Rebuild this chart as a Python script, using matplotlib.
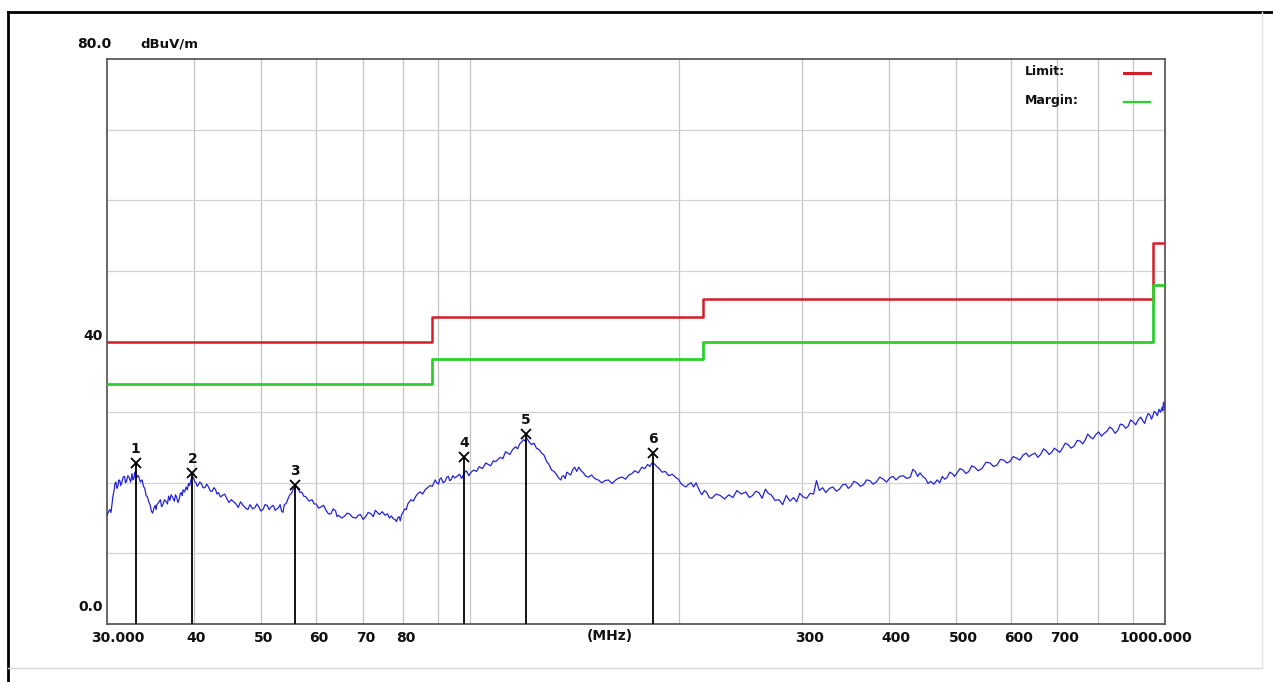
import matplotlib
matplotlib.use("Agg")
import matplotlib.pyplot as plt
from matplotlib.lines import Line2D
from matplotlib.transforms import ScaledTranslation

# ---------------- data ----------------
# measured trace: (frequency MHz, level dBuV/m) read off the picture
trace_pairs = [
    (30.0, 15.4), (30.15, 15.9), (30.3, 16.2), (30.4, 15.8), (30.5, 16.9), (30.6, 18.1), (30.7, 18.8),
    (30.8, 19.9), (30.9, 20.1), (31.0, 19.2), (31.1, 19.5), (31.2, 20.4), (31.3, 20.3), (31.4, 19.6),
    (31.5, 20.0), (31.65, 20.8), (31.8, 20.9), (31.9, 20.0), (32.0, 20.2), (32.15, 21.0), (32.3, 20.7),
    (32.45, 20.1), (32.6, 21.3), (32.7, 20.4), (32.8, 20.6), (32.9, 21.5), (33.0, 21.6), (33.15, 20.8),
    (33.3, 21.0), (33.5, 20.1), (33.7, 20.4), (33.85, 19.5), (34.0, 19.2), (34.15, 18.2), (34.3, 18.0),
    (34.45, 17.3), (34.6, 16.9), (34.75, 16.0), (34.9, 15.7), (35.05, 16.4), (35.2, 16.8), (35.3, 16.2),
    (35.4, 16.9), (35.6, 17.2), (35.8, 17.6), (35.95, 16.6), (36.1, 16.9), (36.3, 17.6), (36.5, 17.3),
    (36.65, 17.0), (36.8, 18.1), (36.95, 17.5), (37.1, 18.3), (37.3, 17.9), (37.5, 17.4), (37.65, 18.3),
    (37.8, 17.9), (37.95, 17.2), (38.1, 17.6), (38.25, 18.5), (38.4, 18.6), (38.5, 18.2), (38.6, 19.0),
    (38.8, 18.7), (39.0, 19.4), (39.15, 19.0), (39.3, 19.9), (39.45, 19.6), (39.6, 20.3), (39.8, 20.9),
    (40.0, 20.6), (40.15, 20.1), (40.3, 20.0), (40.45, 19.5), (40.6, 19.7), (40.8, 20.1), (41.0, 19.9),
    (41.25, 19.3), (41.5, 19.3), (41.75, 19.8), (42.0, 19.4), (42.25, 18.8), (42.5, 18.8), (42.75, 19.3),
    (43.0, 19.0), (43.2, 18.4), (43.4, 18.6), (43.7, 18.0), (44.0, 18.2), (44.3, 18.4), (44.6, 17.8),
    (44.95, 17.2), (45.3, 17.6), (45.65, 17.3), (46.0, 17.0), (46.35, 16.5), (46.7, 17.3), (47.1, 16.8),
    (47.5, 16.4), (47.85, 16.2), (48.2, 16.9), (48.6, 16.3), (49.0, 16.5), (49.3, 17.0), (49.6, 16.6),
    (49.95, 16.0), (50.3, 16.2), (50.65, 16.9), (51.0, 16.8), (51.35, 16.2), (51.7, 16.6), (52.05, 16.8),
    (52.4, 16.1), (52.7, 16.3), (53.0, 16.5), (53.25, 16.9), (53.5, 16.0), (53.75, 15.8), (54.0, 16.9),
    (54.35, 17.1), (54.7, 17.8), (55.0, 18.3), (55.3, 18.5), (55.65, 19.2), (56.0, 19.5), (56.3, 19.3),
    (56.6, 19.0), (56.9, 18.6), (57.2, 18.7), (57.6, 18.1), (58.0, 18.0), (58.6, 17.4), (59.2, 17.6),
    (59.6, 17.0), (60.0, 17.0), (60.5, 16.4), (61.0, 16.6), (61.5, 16.8), (62.0, 16.1), (62.5, 15.6),
    (63.0, 15.6), (63.5, 16.3), (64.0, 16.0), (64.3, 15.2), (64.6, 15.4), (65.3, 15.0), (66.0, 15.3),
    (66.5, 15.7), (67.0, 15.6), (67.7, 15.1), (68.5, 15.0), (69.0, 15.4), (69.5, 15.5), (70.1, 14.8),
    (70.7, 15.2), (71.3, 15.8), (72.0, 15.6), (72.5, 15.2), (73.0, 16.1), (73.5, 15.8), (74.0, 15.5),
    (74.7, 15.9), (75.4, 15.4), (76.0, 15.6), (76.5, 15.0), (77.0, 15.3), (77.5, 14.9), (77.9, 14.8),
    (78.3, 14.5), (78.6, 15.0), (79.0, 15.2), (79.3, 14.6), (79.6, 15.4), (80.0, 15.8), (80.5, 16.3),
    (80.9, 16.2), (81.3, 17.0), (81.7, 17.3), (82.2, 17.6), (82.8, 17.4), (83.5, 18.1), (84.1, 18.5),
    (84.8, 18.7), (85.4, 18.4), (86.1, 19.0), (86.8, 19.3), (87.5, 19.6), (88.2, 19.5), (89.0, 20.4),
    (89.5, 20.0), (90.0, 19.8), (90.4, 20.5), (90.8, 20.7), (91.4, 20.0), (92.0, 20.2), (92.5, 20.8),
    (93.0, 20.9), (93.4, 20.3), (93.8, 20.4), (94.4, 21.0), (95.0, 20.7), (95.7, 20.9), (96.5, 21.2),
    (97.2, 20.6), (98.0, 21.4), (98.7, 21.7), (99.5, 21.0), (100.3, 21.5), (101.2, 21.8), (102.1, 21.6),
    (103.0, 22.3), (104.1, 22.0), (105.3, 22.8), (106.1, 22.6), (107.0, 22.4), (107.9, 23.1), (108.8, 23.0),
    (109.6, 23.3), (110.5, 23.6), (111.4, 23.4), (112.4, 24.4), (113.2, 24.2), (114.0, 24.0), (115.1, 24.7),
    (116.2, 25.1), (117.0, 24.8), (117.8, 25.5), (118.6, 25.8), (119.3, 26.1), (119.9, 25.9), (120.5, 26.4),
    (121.5, 25.8), (122.5, 25.4), (123.5, 25.6), (124.5, 24.9), (125.6, 24.7), (126.7, 24.2), (127.7, 23.9),
    (128.8, 23.0), (129.8, 22.6), (130.9, 21.8), (132.0, 21.6), (133.0, 21.2), (134.0, 20.7), (135.0, 20.4),
    (135.6, 20.9), (136.3, 21.0), (137.0, 20.6), (137.7, 21.5), (138.6, 21.3), (139.5, 21.1), (140.5, 21.9),
    (141.4, 22.2), (142.3, 21.6), (143.3, 22.2), (144.4, 21.7), (145.5, 21.4), (146.8, 20.9), (148.1, 20.8),
    (149.5, 21.1), (151.0, 20.6), (152.8, 20.4), (154.6, 20.0), (156.3, 20.3), (158.0, 20.4), (160.0, 19.9),
    (162.0, 20.4), (163.8, 20.7), (165.5, 20.8), (167.3, 20.5), (169.2, 21.1), (170.9, 21.3), (172.5, 21.7),
    (174.5, 21.4), (176.6, 22.2), (178.3, 22.0), (180.0, 22.6), (181.3, 22.3), (182.6, 22.8), (184.0, 22.7),
    (185.5, 22.3), (187.1, 22.0), (188.8, 21.5), (190.9, 21.6), (193.0, 21.0), (195.4, 21.2), (197.8, 20.7),
    (199.4, 20.5), (201.0, 19.9), (202.7, 19.6), (204.4, 19.4), (206.2, 19.8), (208.0, 20.0), (209.6, 19.4),
    (211.3, 20.0), (212.4, 19.5), (213.5, 19.0), (214.5, 18.6), (215.5, 18.3), (217.2, 18.9), (219.0, 18.6),
    (220.8, 17.9), (222.7, 17.8), (225.8, 18.4), (229.0, 18.2), (232.3, 17.7), (235.6, 18.3), (238.8, 17.9),
    (242.0, 18.9), (245.6, 18.4), (249.3, 18.7), (252.1, 17.9), (255.0, 18.2), (257.6, 18.8), (260.3, 18.6),
    (263.1, 17.8), (266.0, 19.1), (268.5, 18.5), (271.0, 18.3), (274.6, 17.5), (278.2, 17.6), (281.6, 16.9),
    (285.0, 18.2), (288.5, 17.4), (292.0, 17.9), (295.0, 17.3), (298.0, 18.5), (301.4, 18.0), (304.9, 17.8),
    (308.4, 18.5), (312.0, 18.4), (315.0, 20.3), (318.0, 18.9), (321.5, 19.3), (325.0, 18.6), (328.8, 19.2),
    (332.7, 19.4), (336.3, 18.8), (340.0, 19.1), (343.5, 19.7), (347.0, 19.8), (350.0, 19.2), (353.0, 19.5),
    (356.6, 20.2), (360.3, 20.0), (364.1, 19.5), (368.0, 19.7), (372.0, 20.4), (376.0, 20.3), (380.0, 19.8),
    (384.0, 20.1), (388.5, 20.8), (393.0, 20.5), (397.4, 20.1), (401.9, 20.7), (406.0, 20.9), (410.0, 20.4),
    (415.0, 20.9), (420.0, 21.0), (425.0, 20.6), (430.0, 20.8), (433.5, 21.9), (437.0, 21.6), (440.5, 20.9),
    (444.0, 21.4), (448.0, 20.9), (452.0, 20.6), (456.0, 19.9), (460.0, 20.2), (465.0, 19.8), (469.8, 20.4),
    (474.0, 20.0), (478.0, 20.9), (482.0, 20.5), (486.0, 20.8), (490.0, 21.5), (494.0, 21.3), (498.0, 20.9),
    (501.9, 21.4), (507.0, 22.0), (512.0, 21.8), (517.0, 21.3), (522.0, 21.6), (527.0, 22.4), (532.0, 22.2),
    (538.5, 21.7), (545.0, 22.0), (552.5, 22.9), (560.0, 22.8), (566.5, 22.3), (573.0, 22.5), (579.5, 23.3),
    (586.0, 23.2), (592.0, 22.8), (598.0, 23.0), (604.5, 23.7), (611.0, 23.5), (618.0, 23.2), (624.6, 23.9),
    (631.0, 24.2), (637.0, 23.7), (643.5, 24.0), (650.0, 24.2), (656.0, 23.6), (662.0, 24.0), (668.5, 24.8),
    (675.0, 24.5), (681.0, 24.0), (687.0, 24.3), (693.0, 24.9), (699.1, 24.6), (705.5, 24.3), (712.0, 24.9),
    (718.5, 25.6), (725.0, 25.4), (732.5, 24.9), (740.0, 25.2), (747.5, 26.0), (755.0, 25.9), (761.5, 25.5),
    (768.0, 26.1), (774.0, 26.9), (780.1, 26.5), (787.5, 26.2), (795.0, 26.8), (802.5, 27.2), (810.0, 26.6),
    (817.5, 27.0), (825.0, 27.3), (832.5, 27.9), (840.0, 27.6), (847.5, 27.0), (855.0, 27.4), (862.5, 28.3),
    (870.1, 28.2), (877.5, 27.7), (885.0, 28.0), (892.5, 28.9), (900.0, 28.6), (907.5, 28.2), (915.0, 28.9),
    (922.5, 29.3), (930.0, 28.7), (935.0, 28.4), (940.0, 29.2), (946.0, 29.8), (951.6, 29.6), (956.0, 29.0),
    (960.0, 29.4), (965.0, 30.1), (970.0, 29.9), (975.0, 29.5), (980.0, 30.4), (985.0, 30.0), (990.7, 30.7),
    (993.0, 30.2), (995.0, 31.4), (997.5, 30.8), (1000.0, 30.5),
]
trace_freq = [p[0] for p in trace_pairs]
trace_level = [p[1] for p in trace_pairs]

limit_edges = [30, 88, 216, 960, 1000]
limit_levels = [40, 43.5, 46, 54]
margin_levels = [34, 37.5, 40, 48]

marker_ids = ["1", "2", "3", "4", "5", "6"]
marker_freq = [33.0, 39.8, 56.0, 98.0, 120.3, 183.0]
marker_level = [22.8, 21.4, 19.7, 23.7, 26.9, 24.2]

xtick_vals = [30, 40, 50, 60, 70, 80, 300, 400, 500, 600, 700, 1000]
xtick_text = ["30.000", "40", "50", "60", "70", "80", "300", "400", "500", "600", "700", "1000.000"]
vgrid_vals = [40, 50, 60, 70, 80, 90, 100, 200, 300, 400, 500, 600, 700, 800, 900]
hgrid_vals = [10, 20, 30, 50, 60, 70]

# ---------------- figure ----------------
W, H = 1273, 682
fig = plt.figure(figsize=(W / 100, H / 100), dpi=100, facecolor="white")
plt.rcParams["font.family"] = ["DejaVu Sans"]

def px(x, y):
    return x / W, 1 - y / H

x0, y0 = px(107, 624)
x1, y1 = px(1165, 59)
ax = fig.add_axes([x0, y0, x1 - x0, y1 - y0])
ax.set_xscale("log")
ax.set_xlim(30, 1000)
ax.set_ylim(0, 80)
ax.set_facecolor("white")

for v in vgrid_vals:
    ax.axvline(v, color="#c4c4c4", lw=0.9, zorder=0)
for v in hgrid_vals:
    ax.axhline(v, color="#d2d2d2", lw=0.9, zorder=0)

for s in ax.spines.values():
    s.set_color("#5a5a5a")
    s.set_linewidth(1.3)

# ticks / labels
ax.set_yticks([])
ax.minorticks_off()
ax.set_xticks(xtick_vals)
ax.set_xticklabels(xtick_text)
ax.tick_params(axis="x", length=0, pad=5, labelsize=10, colors="#111111")
offsets = {0: -16, 11: -46}
for i, lab in enumerate(ax.get_xticklabels()):
    lab.set_horizontalalignment("left")
    lab.set_fontweight("bold")
    dx = offsets.get(i, -7)
    lab.set_transform(lab.get_transform() + ScaledTranslation(dx / 100, 0, fig.dpi_scale_trans))
ax.text(0.475, -0.021, "(MHz)", transform=ax.transAxes, ha="center", va="center",
        fontsize=10, fontweight="bold", color="#111111")

ylab_kw = dict(xycoords=("axes fraction", "data"), textcoords="offset pixels",
               ha="right", va="center", fontsize=10, fontweight="bold", color="#111111")
ax.annotate("80.0", (0, 80), xytext=(4, 15), **ylab_kw)
ax.annotate("40", (0, 40), xytext=(-4, 5), **ylab_kw)
ax.annotate("0.0", (0, 0), xytext=(-4, 17), **ylab_kw)
ax.annotate("dBuV/m", (0, 80), xytext=(33, 15), xycoords=("axes fraction", "data"),
            textcoords="offset pixels", ha="left", va="center", fontsize=9.5,
            fontweight="bold", color="#111111")

# limit & margin
lim_y = limit_levels + [limit_levels[-1]]
mar_y = margin_levels + [margin_levels[-1]]
ax.step(limit_edges, lim_y, where="post", color="#d21f26", lw=1.8, zorder=3)
ax.step(limit_edges, mar_y, where="post", color="#2ccf2c", lw=2.0, zorder=3)

# trace
ax.plot(trace_freq, trace_level, color="#2424d4", lw=0.9, zorder=4)

# markers
ax.vlines(marker_freq, 0, marker_level, color="black", lw=1.3, zorder=5)
ax.plot(marker_freq, marker_level, "x", color="black", ms=7, mew=1.3, zorder=6)
for mid, f, l in zip(marker_ids, marker_freq, marker_level):
    ax.annotate(mid, (f, l), xytext=(0, 14), textcoords="offset pixels", ha="center",
                va="center", fontsize=10, fontweight="bold", color="#111111", zorder=6)

# legend
ax.text(0.868, 0.977, "Limit:", transform=ax.transAxes, ha="left", va="center",
        fontsize=9, fontweight="bold", color="#111111")
ax.text(0.868, 0.926, "Margin:", transform=ax.transAxes, ha="left", va="center",
        fontsize=9, fontweight="bold", color="#111111")
ax.plot([0.961, 0.986], [0.975, 0.975], transform=ax.transAxes, color="#d21f26", lw=2.2,
        clip_on=False)
ax.plot([0.961, 0.986], [0.924, 0.924], transform=ax.transAxes, color="#2ccf2c", lw=1.6,
        clip_on=False)

# outer frame lines
fx, fy = px(8, 12)
fig.add_artist(Line2D([fx, 1], [fy, fy], transform=fig.transFigure, color="black", lw=2))
fig.add_artist(Line2D([fx, fx], [0, fy], transform=fig.transFigure, color="black", lw=2))
gx, gy = px(1262, 668)
fig.add_artist(Line2D([fx, gx], [gy, gy], transform=fig.transFigure, color="#d8d8d8", lw=1))
fig.add_artist(Line2D([gx, gx], [gy, fy], transform=fig.transFigure, color="#e2e2e2", lw=1))

fig.savefig("out.png", dpi=100, facecolor="white")
